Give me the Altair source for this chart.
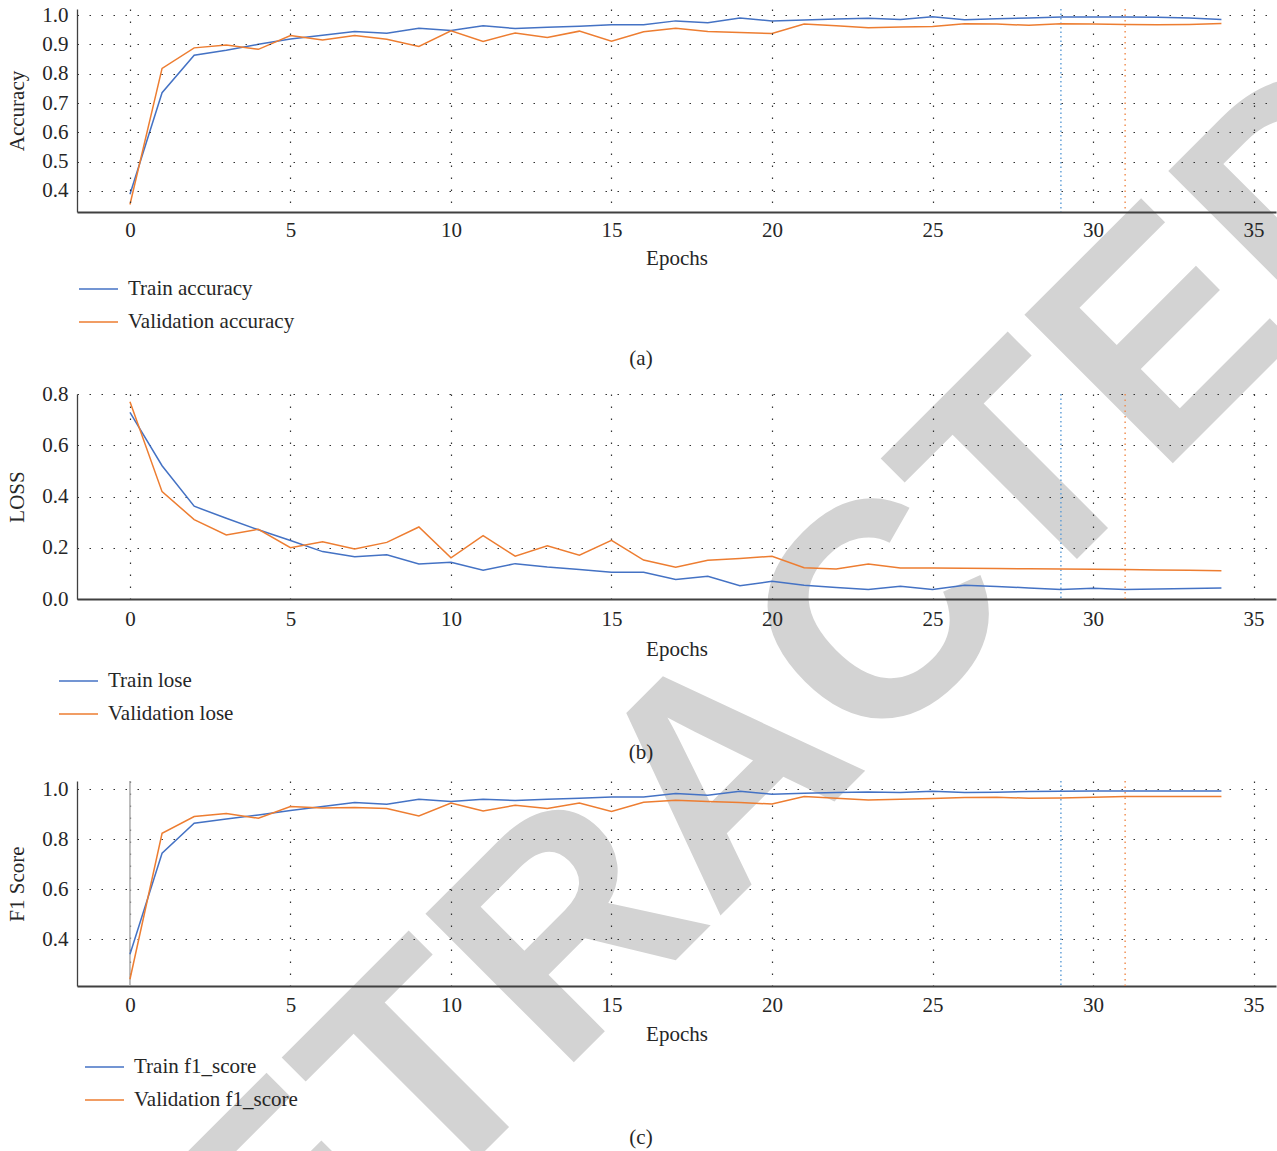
import altair as alt
import pandas as pd

epochs = list(range(35))

train_acc = [0.389, 0.735, 0.863, 0.880, 0.900, 0.918, 0.931, 0.944, 0.938, 0.955,
             0.947, 0.963, 0.954, 0.958, 0.962, 0.967, 0.967, 0.980, 0.974, 0.990,
             0.980, 0.983, 0.986, 0.989, 0.985, 0.994, 0.984, 0.987, 0.990, 0.993,
             0.993, 0.993, 0.992, 0.990, 0.985]
val_acc = [0.354, 0.818, 0.888, 0.898, 0.883, 0.930, 0.915, 0.930, 0.917, 0.893,
           0.946, 0.910, 0.939, 0.923, 0.945, 0.911, 0.943, 0.955, 0.944, 0.940,
           0.937, 0.969, 0.963, 0.957, 0.959, 0.961, 0.970, 0.969, 0.965, 0.970,
           0.969, 0.968, 0.967, 0.968, 0.971]

train_loss = [0.728, 0.520, 0.362, 0.315, 0.270, 0.228, 0.185, 0.165, 0.173, 0.137,
              0.143, 0.112, 0.138, 0.125, 0.115, 0.104, 0.104, 0.076, 0.089, 0.052,
              0.069, 0.054, 0.045, 0.037, 0.050, 0.037, 0.054, 0.049, 0.043, 0.037,
              0.042, 0.037, 0.039, 0.041, 0.043]
val_loss = [0.770, 0.419, 0.310, 0.250, 0.272, 0.200, 0.223, 0.195, 0.221, 0.281,
            0.161, 0.247, 0.167, 0.208, 0.171, 0.229, 0.152, 0.124, 0.151, 0.158,
            0.167, 0.122, 0.117, 0.137, 0.121, 0.121, 0.120, 0.119, 0.118, 0.117,
            0.116, 0.115, 0.113, 0.112, 0.110]

train_f1 = [0.340, 0.744, 0.864, 0.881, 0.897, 0.915, 0.931, 0.947, 0.940, 0.960,
            0.951, 0.960, 0.955, 0.960, 0.964, 0.969, 0.969, 0.983, 0.976, 0.992,
            0.980, 0.984, 0.987, 0.989, 0.987, 0.992, 0.987, 0.988, 0.991, 0.992,
            0.993, 0.993, 0.993, 0.993, 0.993]
val_f1 = [0.240, 0.824, 0.891, 0.903, 0.884, 0.931, 0.925, 0.927, 0.923, 0.893,
          0.945, 0.913, 0.936, 0.923, 0.945, 0.911, 0.948, 0.956, 0.951, 0.947,
          0.941, 0.971, 0.964, 0.957, 0.960, 0.963, 0.967, 0.968, 0.964, 0.965,
          0.968, 0.971, 0.971, 0.971, 0.971]

acc_names = ["Train accuracy", "Validation accuracy"]
loss_names = ["Train lose", "Validation lose"]
f1_names = ["Train f1_score", "Validation f1_score"]

x_ticks = [0, 5, 10, 15, 20, 25, 30, 35]
acc_ticks = [0.4, 0.5, 0.6, 0.7, 0.8, 0.9, 1.0]
loss_ticks = [0.0, 0.2, 0.4, 0.6, 0.8]
f1_ticks = [0.4, 0.6, 0.8, 1.0]

best_train_epoch = [29]
best_val_epoch = [31]
f1_start_epoch = [0]
captions = ["(a)", "(b)", "(c)"]
watermark = ["RETRACTED"]

BLUE = "#4472C4"
ORANGE = "#ED7D31"
FONT = "Liberation Serif"
FS = 21
W = 1199
XDOM = [-1.65, 35.7]


def panel(train, val, names, ytitle, ydom, yticks, height, legend_x, legend_y,
          caption, caption_y, x_lpad, x_tpad, rule0=False, mark_wm=False, axis_z=0):
    df = pd.DataFrame({
        "epoch": epochs + epochs,
        "value": train + val,
        "series": [names[0]] * len(epochs) + [names[1]] * len(epochs),
    })
    x = alt.X("epoch:Q", scale=alt.Scale(domain=XDOM, nice=False, zero=False),
              axis=alt.Axis(values=x_ticks, title="Epochs", format="d",
                            labelPadding=x_lpad, titlePadding=x_tpad,
                            domainWidth=2, zindex=axis_z, labelFlush=False))
    y = alt.Y("value:Q", scale=alt.Scale(domain=ydom, nice=False, zero=False),
              axis=alt.Axis(values=yticks, title=ytitle, format=".1f",
                            labelPadding=9, titlePadding=14, domainWidth=1.3,
                            zindex=axis_z))
    lines = alt.Chart(df).mark_line(strokeWidth=1.5).encode(
        x=x, y=y,
        color=alt.Color("series:N", sort=names,
                        scale=alt.Scale(domain=names, range=[BLUE, ORANGE]),
                        legend=alt.Legend(orient="none", legendX=legend_x, legendY=legend_y,
                                          title=None, direction="vertical",
                                          symbolType="stroke", symbolSize=1521,
                                          symbolStrokeWidth=1.5, labelFont=FONT,
                                          labelFontSize=FS, labelColor="#262626",
                                          clipHeight=22, rowPadding=11, labelOffset=9,
                                          labelLimit=400, padding=0)),
    )
    r29 = alt.Chart(pd.DataFrame({"epoch": best_train_epoch})).mark_rule(
        color="#5B9BD5", strokeWidth=1.4, strokeDash=[1.5, 3]).encode(x="epoch:Q")
    r31 = alt.Chart(pd.DataFrame({"epoch": best_val_epoch})).mark_rule(
        color="#F08A4B", strokeWidth=1.4, strokeDash=[1.5, 4]).encode(x="epoch:Q")
    cap = alt.Chart(pd.DataFrame({"c": [caption]})).mark_text(
        font=FONT, fontSize=FS, color="#262626", align="center", baseline="middle"
    ).encode(text="c:N", x=alt.value(564), y=alt.value(caption_y))
    layers = []
    if mark_wm:
        wm = alt.Chart(pd.DataFrame({"w": watermark})).mark_text(
            font="Liberation Sans", fontWeight="bold", fontSize=305, color="#d3d3d3",
            angle=315, align="center", baseline="alphabetic"
        ).encode(text="w:N", x=alt.value(716), y=alt.value(834))
        layers.append(wm)
    if rule0:
        r0 = alt.Chart(pd.DataFrame({"epoch": f1_start_epoch})).mark_rule(
            color="#aaaaaa", strokeWidth=1.5).encode(x="epoch:Q")
        layers.append(r0)
    layers += [r29, r31, lines, cap]
    return alt.layer(*layers).properties(width=W, height=height)


pa = panel(train_acc, val_acc, acc_names, "Accuracy", [0.3284, 1.0205], acc_ticks, 203,
           1, 269, captions[0], 350, 7, 7, mark_wm=True, axis_z=1)
pb = panel(train_loss, val_loss, loss_names, "LOSS", [0.0, 0.8], loss_ticks, 205,
           -19, 276, captions[1], 359, 9, 9)
pc = panel(train_f1, val_f1, f1_names, "F1 Score", [0.213, 1.033], f1_ticks, 205,
           7, 275, captions[2], 357, 8, 8, rule0=True)

# root view is 1199 wide and 0 high with autosize none; padding fills the window
chart = alt.vconcat(pa, pb, pc, spacing=182, bounds="flush").resolve_scale(
    color="independent"
).properties(
    padding={"left": 77, "top": 9, "right": 1, "bottom": 1142},
    autosize=alt.AutoSizeParams(type="none"),
).configure_view(stroke=None).configure_axis(
    labelFont=FONT, labelFontSize=FS, labelColor="#262626",
    titleFont=FONT, titleFontSize=FS, titleFontWeight="normal", titleColor="#262626",
    grid=True, gridColor="#333333", gridDash=[1.5, 10.5], gridWidth=1.2,
    ticks=False, tickSize=0, domainColor="#404040",
)

chart.save("out.html", embed_options={"renderer": "svg", "actions": False})
